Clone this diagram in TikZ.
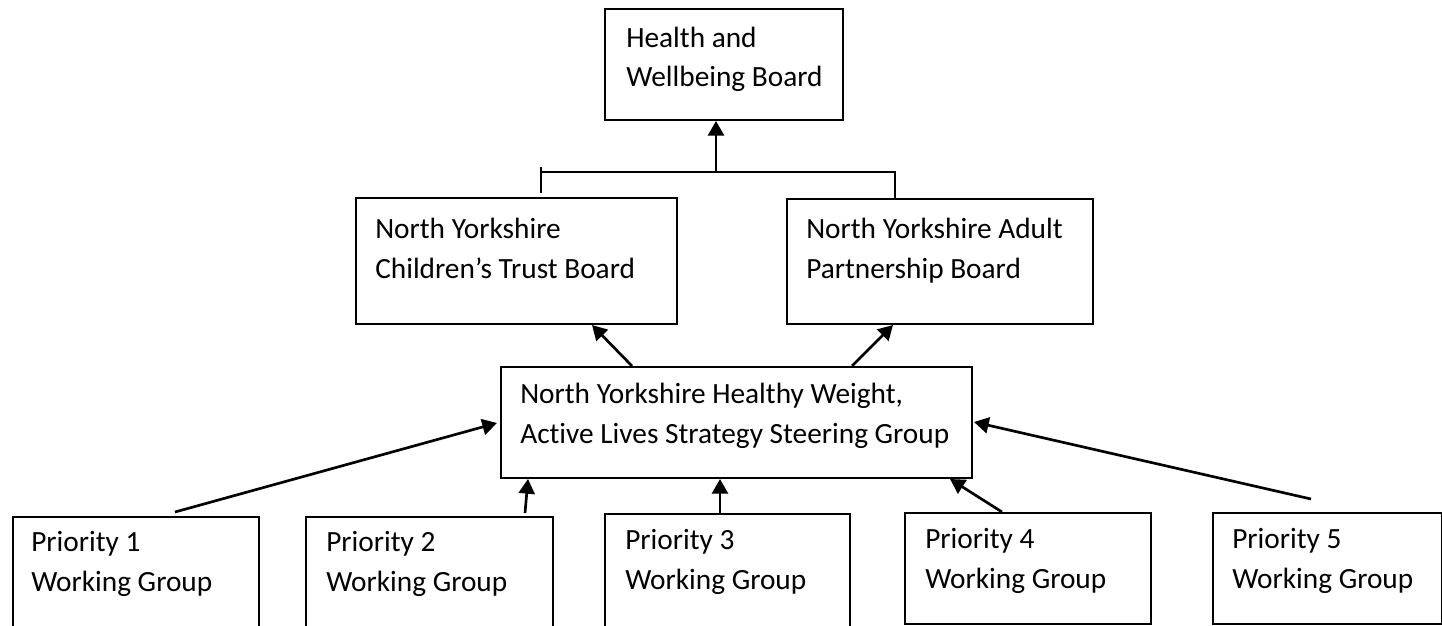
\documentclass[tikz,border=0pt]{standalone}
\usepackage{fontspec}
\setmainfont{Carlito}[Ligatures=NoCommon]
\usetikzlibrary{arrows.meta,calc}
\begin{document}
\begin{tikzpicture}[x=0.75pt,y=-0.75pt,
  box/.style={draw=black,line width=1.5pt,rectangle,inner sep=0pt,anchor=north west},
  txt/.style={anchor=base west,inner sep=0pt,align=left,font=\fontsize{22}{29.5}\selectfont},
  conn/.style={line width=2pt,draw=black},
  arr/.style={conn,-{Triangle[length=11pt,width=12pt]}}]
\useasboundingbox (0,0) rectangle (1442,625);
\clip (0,0) rectangle (1442,625);
% boxes
\node[box,minimum width=178.5pt,minimum height=83.25pt] (hw) at (604,8) {};
\node[box,minimum width=240.75pt,minimum height=94.5pt] (cb) at (355,197) {};
\node[box,minimum width=229.5pt,minimum height=93.75pt] (ab) at (786,198) {};
\node[box,minimum width=353.25pt,minimum height=83.25pt] (st) at (500,366) {};
\node[box,minimum width=184.5pt,minimum height=100pt] (p1) at (12,516) {};
\node[box,minimum width=185.25pt,minimum height=100pt] (p2) at (305,516) {};
\node[box,minimum width=183.75pt,minimum height=100pt] (p3) at (604,513) {};
\node[box,minimum width=184.5pt,minimum height=83.25pt] (p4) at (904,512) {};
\node[box,minimum width=171.75pt,minimum height=83.25pt] (p5) at (1212,512) {};
% texts (anchored at the baseline of the last line)
\node[txt] (hwt) at (626,86.5) {Health and\\Wellbeing Board};
\node[txt] (cbt) at (375,278) {North Yorkshire\\Children’s Trust Board};
\node[txt] (abt) at (806,278) {North Yorkshire Adult\\Partnership Board};
\node[txt] (stt) at (520,443) {North Yorkshire Healthy Weight,\\Active Lives Strategy Steering Group};
\node[txt] (p1t) at (31,591) {Priority 1\\Working Group};
\node[txt] (p2t) at (326,591) {Priority 2\\Working Group};
\node[txt] (p3t) at (625,589) {Priority 3\\Working Group};
\node[txt] (p4t) at (925,588) {Priority 4\\Working Group};
\node[txt] (p5t) at (1232,588) {Priority 5\\Working Group};
% top connector
\coordinate (jl) at (541,172);
\coordinate (jr) at (895,172);
\coordinate (jm) at (716,172);
\draw[conn] ($(cb.north west)+(186,-4)$) -- ($(cb.north west)+(186,-30)$);
\draw[conn] (jl) -- (jr) -- (jr |- ab.north);
\draw[arr] (jm) -- ($(hw.south west)+(112,0)$);
% middle arrows
\draw[arr] ($(st.north west)+(132,0)$) -- ($(cb.south west)+(237,0)$);
\draw[arr] ($(st.north west)+(352,0)$) -- ($(ab.south west)+(107,0)$);
% bottom arrows
\draw[arr] ($(p1.north west)+(163,-4)$) -- ($(st.north west)+(-3,57)$);
\draw[arr] ($(p2.north west)+(220,-3)$) -- ($(st.south west)+(28,0)$);
\draw[arr] ($(p3.north west)+(116,0)$) -- ($(st.south west)+(220,0)$);
\draw[arr] ($(p4.north west)+(98,0)$) -- ($(st.south east)+(-23,0)$);
\draw[arr] ($(p5.north west)+(99,-13)$) -- ($(st.north east)+(1,56)$);
\end{tikzpicture}
\end{document}
